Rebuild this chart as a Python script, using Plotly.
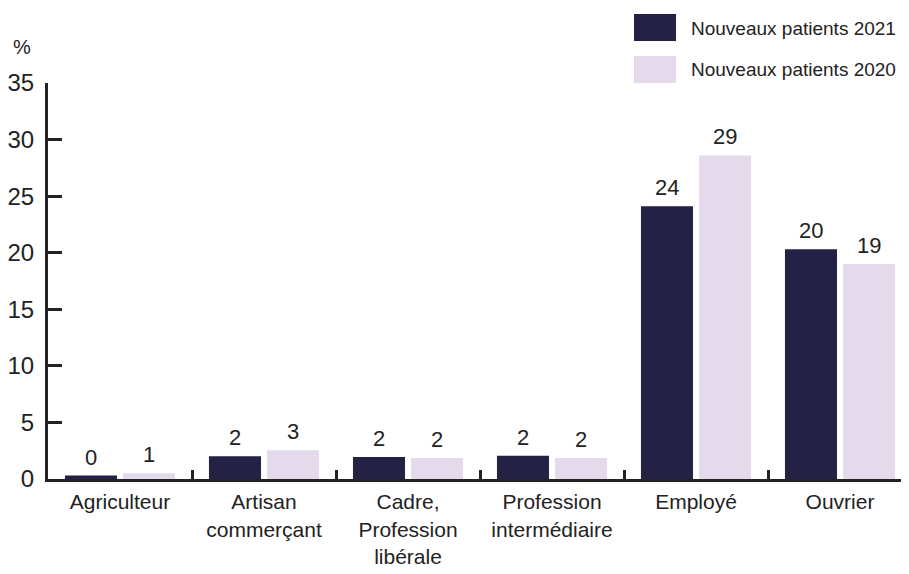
import plotly.graph_objects as go

categories = ["Agriculteur", "Artisan<br>commerçant", "Cadre,<br>Profession<br>libérale",
              "Profession<br>intermédiaire", "Employé", "Ouvrier"]
series_names = ["Nouveaux patients 2021", "Nouveaux patients 2020"]
values_2021 = [0.3, 2.0, 1.95, 2.05, 24.1, 20.3]
values_2020 = [0.5, 2.55, 1.85, 1.85, 28.6, 19.0]
labels_2021 = ["0", "2", "2", "2", "24", "20"]
labels_2020 = ["1", "3", "2", "2", "29", "19"]
y_ticks = [0, 5, 10, 15, 20, 25, 30, 35]

NAVY = "#232145"
LAV = "#E4DAEC"
INK = "#222222"
FONT = "Liberation Sans, Arial, sans-serif"

OFF = 8  # page body margin
W, H = 909 - OFF, 574 - OFF
ML, MR, MT = 48 - OFF, 0, 83 - OFF
MB = H - (479 - OFF)
PW, PH = W - ML - MR, H - MT - MB

def px_x(x):
    return (x - OFF - ML) / PW

def px_y(y):
    return (H - MB - (y - OFF)) / PH

fig = go.Figure()
for name, vals, labs, col, shift in [(series_names[0], values_2021, labels_2021, NAVY, -29),
                                     (series_names[1], values_2020, labels_2020, LAV, 29)]:
    fig.add_trace(go.Bar(
        x=categories, y=vals, name=name, marker=dict(color=col, line=dict(width=0)),
        showlegend=False, hoverinfo="x+y"))
    for c, v, t in zip(categories, vals, labs):
        fig.add_annotation(x=c, y=v, text=t, xref="x", yref="y", showarrow=False,
                           xshift=shift, yshift=4, xanchor="center", yanchor="bottom",
                           font=dict(family=FONT, size=22, color=INK))

fig.update_layout(
    width=W, height=H, margin=dict(l=ML, r=MR, t=MT, b=MB, autoexpand=False),
    paper_bgcolor="white", plot_bgcolor="white",
    barmode="group", bargap=0.194, bargroupgap=0.103,
    font=dict(family=FONT, color=INK),
)
fig.update_xaxes(
    range=[-0.5, -0.5 + PW / 144.0], showline=True, linewidth=3, linecolor=INK,
    ticks="inside", tickson="boundaries", ticklen=9, tickwidth=3, tickcolor=INK,
    tickangle=0, automargin=False, ticklabelstandoff=2,
    tickfont=dict(family=FONT, size=21, color=INK), showgrid=False, zeroline=False,
    fixedrange=True)
fig.update_yaxes(
    range=[0, 35], tickvals=y_ticks, showline=True, linewidth=3, linecolor=INK,
    ticks="inside", ticklen=14, tickwidth=3, tickcolor=INK, automargin=False,
    ticklabelstandoff=6,
    tickfont=dict(family=FONT, size=24, color=INK), showgrid=False, zeroline=False,
    fixedrange=True)

# unit label
fig.add_annotation(text="%", x=px_x(22), y=px_y(47), xref="paper", yref="paper",
                   xanchor="center", yanchor="middle",
                   showarrow=False, font=dict(family=FONT, size=20, color=INK))

# legend (manual, to match large swatches)
for i, (name, col) in enumerate(zip(series_names, [NAVY, LAV])):
    top = 14 + 42 * i
    fig.add_shape(type="rect", xref="paper", yref="paper",
                  x0=px_x(634), x1=px_x(676), y0=px_y(top + 27), y1=px_y(top),
                  fillcolor=col, line=dict(width=0))
    fig.add_annotation(text=name, x=px_x(689), y=px_y(top + 14), xref="paper", yref="paper",
                       xanchor="left", yanchor="middle", showarrow=False,
                       font=dict(family=FONT, size=19, color=INK))

fig.write_html("out.html")
